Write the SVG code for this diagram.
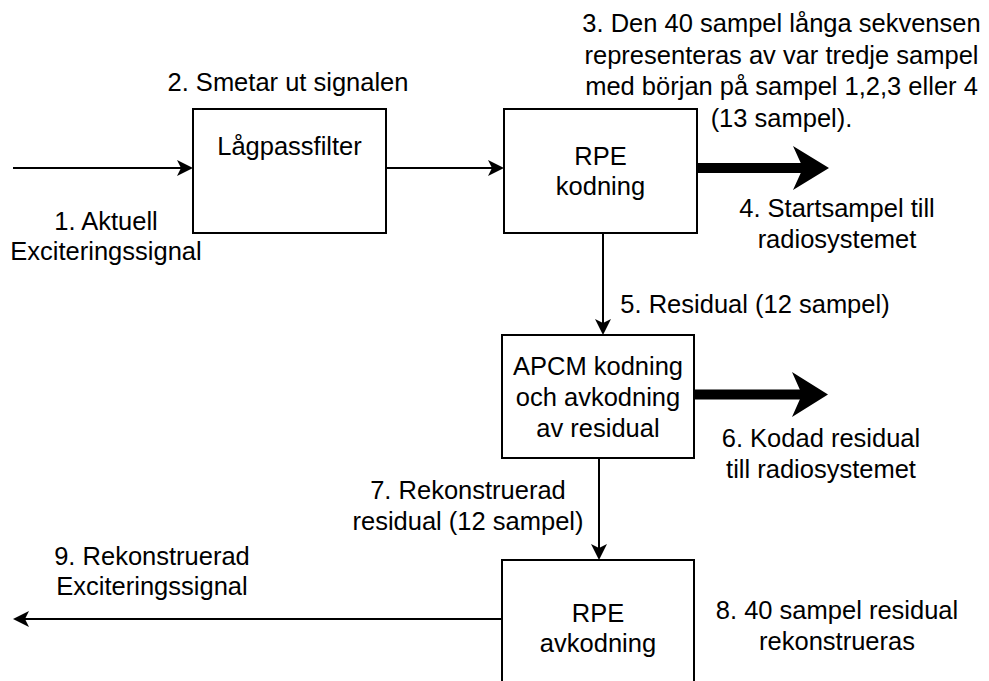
<svg xmlns="http://www.w3.org/2000/svg" width="989" height="681" viewBox="0 0 989 681">
  <style>
    .box { fill: #ffffff; stroke: #000000; stroke-width: 2; }
    .t { font-family: "Liberation Sans", Arial, sans-serif; font-size: 25.5px; fill: #000000; text-anchor: middle; }
    .ln { stroke: #000000; stroke-width: 2; fill: none; }
    .thick { stroke: #000000; stroke-width: 10; fill: none; }
    .head { fill: #000000; stroke: none; }
  </style>
  <rect width="989" height="681" fill="#ffffff"/>

  <g id="connectors">
    <line class="ln" x1="13" y1="168" x2="183" y2="168"/>
    <polygon class="head" points="193,168 177,160 181,168 177,176"/>

    <line class="ln" x1="386" y1="168" x2="494" y2="168"/>
    <polygon class="head" points="504,168 488,160 492,168 488,176"/>

    <line class="thick" x1="697" y1="168" x2="805" y2="168"/>
    <polygon class="head" points="829,168 793,146 803,168 793,190"/>

    <line class="ln" x1="603" y1="233" x2="603" y2="324"/>
    <polygon class="head" points="603,335 595,319 603,323 611,319"/>

    <line class="thick" x1="694" y1="394.5" x2="803" y2="394.5"/>
    <polygon class="head" points="828,394.5 792,372 802,394.5 792,417"/>

    <line class="ln" x1="599" y1="458" x2="599" y2="549"/>
    <polygon class="head" points="599,560 591,544 599,548 607,544"/>

    <line class="ln" x1="502" y1="619" x2="23" y2="619"/>
    <polygon class="head" points="13,619 29,611 25,619 29,627"/>
  </g>

  <g id="lowpass">
    <rect class="box" x="193" y="109" width="193" height="124"/>
    <text class="t" x="289.5" y="155">Lågpassfilter</text>
  </g>

  <g id="rpe-kodning">
    <rect class="box" x="504" y="109" width="193" height="124"/>
    <text class="t" x="600.5" y="165">RPE</text>
    <text class="t" x="600.5" y="195">kodning</text>
  </g>

  <g id="apcm">
    <rect class="box" x="502" y="335" width="192" height="123"/>
    <text class="t" x="598" y="375">APCM kodning</text>
    <text class="t" x="598" y="406">och avkodning</text>
    <text class="t" x="598" y="437">av residual</text>
  </g>

  <g id="rpe-avkodning">
    <rect class="box" x="502" y="560" width="192" height="124"/>
    <text class="t" x="598" y="622">RPE</text>
    <text class="t" x="598" y="652">avkodning</text>
  </g>

  <g id="labels">
    <text class="t" x="288" y="91">2. Smetar ut signalen</text>
    <text class="t" x="106" y="230">1. Aktuell</text>
    <text class="t" x="106" y="260">Exciteringssignal</text>

    <text class="t" x="781.5" y="32">3. Den 40 sampel långa sekvensen</text>
    <text class="t" x="781.5" y="63.5">representeras av var tredje sampel</text>
    <text class="t" x="781.5" y="95">med början på sampel 1,2,3 eller 4</text>
    <text class="t" x="781.5" y="126.5">(13 sampel).</text>

    <text class="t" x="837" y="217">4. Startsampel till</text>
    <text class="t" x="837" y="248">radiosystemet</text>

    <text class="t" x="755" y="313">5. Residual (12 sampel)</text>

    <text class="t" x="821" y="447">6. Kodad residual</text>
    <text class="t" x="821" y="478">till radiosystemet</text>

    <text class="t" x="468" y="499">7. Rekonstruerad</text>
    <text class="t" x="468" y="530">residual (12 sampel)</text>

    <text class="t" x="837" y="619">8. 40 sampel residual</text>
    <text class="t" x="837" y="650">rekonstrueras</text>

    <text class="t" x="152" y="565">9. Rekonstruerad</text>
    <text class="t" x="152" y="595">Exciteringssignal</text>
  </g>
</svg>
